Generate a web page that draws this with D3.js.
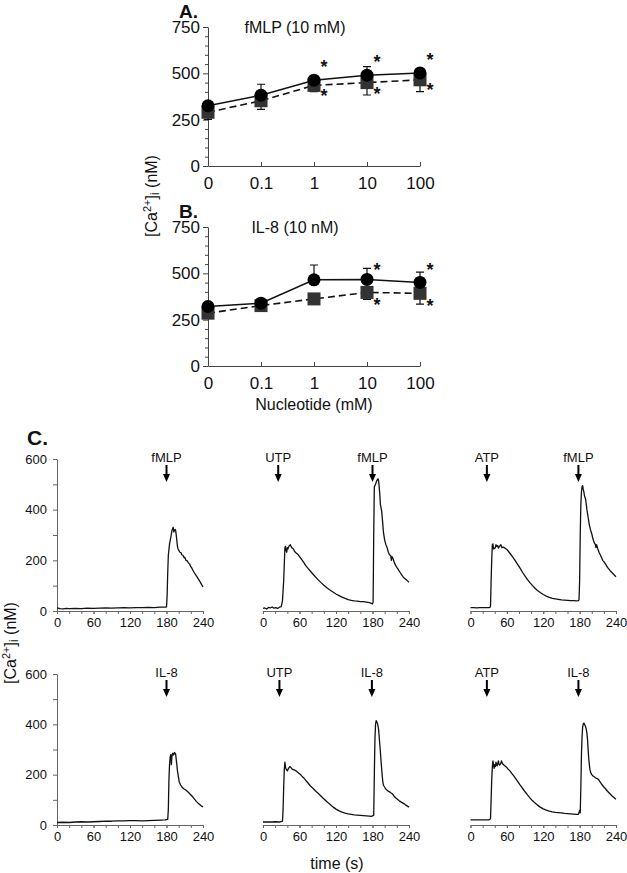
<!DOCTYPE html>
<html lang="en">
<head>
<meta charset="UTF-8">
<title>Nucleotide priming of Ca2+ responses</title>
<script src="https://d3js.org/d3.v7.min.js"></script>
<style>
    body { margin: 0; background: #fff; }
    text { font-family: "Liberation Sans", Arial, sans-serif; fill: #111; }
    .axis path, .axis line { stroke: #444; }
    .axis text { font-family: "Liberation Sans", Arial, sans-serif; fill: #111; }
    .axisC path, .axisC line { stroke: #666; }
</style>
</head>
<body>
<svg width="627" height="873"></svg>
<script>
    // ---- panel A / B data (nucleotide dose, [Ca2+]i nM) ----
    const doseCats = ["0", "0.1", "1", "10", "100"];

    const fmlpCircle    = [325, 382, 463, 490, 502];
    const fmlpCircleErr = [15, 59, 15, 46, 20];
    const fmlpSquare    = [290, 352, 435, 450, 465];
    const fmlpSquareErr = [38, 46, 34, 67, 64];
    const fmlpStars     = [["1", 554], ["1", 401], ["10", 584], ["10", 410], ["100", 595], ["100", 433]];

    const il8Circle    = [321, 339, 465, 467, 451];
    const il8CircleErr = [10, 12, 80, 60, 55];
    const il8Square    = [285, 326, 362, 397, 392];
    const il8SquareErr = [27, 30, 10, 37, 58];
    const il8Stars     = [["10", 541], ["10", 352], ["100", 541], ["100", 347]];

    // ---- panel C traces [time s, [Ca2+]i nM] ----
    const traceFmlp = [[0,12],[5,9],[10,8],[15,10],[20,9],[30,10],[40,9],[50,11],[60,10],[70,11],[80,12],[90,11],[100,12],[110,13],[120,12],[130,13],[140,13],[150,14],[160,13],[170,15],[178,15],[180,16],[181,60],[182,150],[183,220],[185,265],[187,290],[189,318],[190,325],[191,330],[192,312],[193,318],[194,322],[195,318],[196,300],[197,278],[198,255],[199,245],[200,240],[202,232],[204,230],[205,222],[207,220],[209,210],[210,212],[212,200],[214,198],[216,190],[218,185],[220,175],[222,168],[224,158],[226,150],[228,143],[230,136],[232,128],[234,120],[236,112],[238,103],[240,95]];

    const traceUtpFmlp = [[0,10],[3,12],[6,8],[9,14],[12,12],[15,16],[18,11],[21,13],[24,10],[27,15],[30,17],[32,40],[34,120],[36,250],[37,255],[38,238],[39,232],[40,250],[41,245],[43,258],[45,262],[46,255],[48,248],[50,245],[52,235],[55,228],[58,222],[61,212],[64,202],[67,192],[70,180],[74,168],[78,157],[82,146],[86,135],[90,125],[95,113],[100,102],[105,92],[110,83],[115,75],[120,67],[125,61],[130,55],[135,50],[140,45],[145,42],[150,40],[155,39],[160,37],[165,37],[170,35],[175,33],[178,30],[180,28],[181,35],[182,300],[183,490],[185,500],[187,515],[189,522],[190,515],[191,490],[192,460],[193,420],[195,395],[196,370],[197,340],[198,310],[200,280],[202,262],[204,250],[206,232],[208,222],[210,218],[211,200],[212,215],[214,205],[216,190],[218,180],[220,172],[222,165],[224,157],[226,150],[228,143],[230,136],[232,130],[234,126],[236,123],[238,118],[240,113]];

    const traceAtpFmlp = [[0,13],[5,13],[10,12],[15,13],[20,13],[25,13],[30,13],[32,14],[33,20],[34,120],[35,200],[36,262],[37,265],[38,245],[40,248],[41,250],[42,262],[43,255],[45,258],[46,248],[48,255],[50,262],[52,250],[54,252],[57,248],[60,243],[63,234],[66,225],[70,212],[74,198],[78,183],[82,168],[86,152],[90,138],[94,124],[98,112],[102,101],[106,91],[110,82],[115,73],[120,65],[125,59],[130,54],[135,50],[140,48],[145,46],[150,44],[155,43],[160,42],[165,41],[170,41],[175,40],[178,41],[179,45],[180,120],[181,300],[182,420],[183,470],[184,490],[185,495],[186,480],[187,470],[188,455],[190,440],[191,420],[192,400],[194,370],[196,340],[198,320],[200,305],[202,285],[204,270],[206,262],[207,250],[208,262],[210,245],[212,232],[214,222],[216,212],[218,200],[220,195],[222,188],[224,180],[226,172],[228,166],[230,160],[232,155],[234,150],[236,145],[238,140],[240,135]];

    const traceIl8 = [[0,10],[10,11],[20,10],[30,12],[40,13],[50,12],[60,13],[70,14],[80,15],[90,15],[100,16],[110,16],[120,17],[130,17],[140,16],[150,17],[160,18],[170,19],[178,20],[182,22],[183,60],[184,180],[185,240],[186,270],[187,280],[188,240],[189,275],[190,285],[191,278],[192,280],[193,288],[194,285],[195,282],[196,260],[197,240],[198,215],[199,200],[200,185],[201,170],[203,160],[205,152],[207,147],[209,143],[211,140],[213,136],[215,132],[217,127],[219,122],[221,117],[223,112],[225,106],[227,100],[229,94],[231,89],[233,84],[235,80],[237,76],[240,72]];

    const traceUtpIl8 = [[0,12],[5,12],[10,12],[15,12],[20,13],[25,12],[28,12],[30,13],[32,15],[33,60],[34,150],[35,220],[36,250],[37,230],[38,222],[40,215],[42,225],[44,232],[46,228],[48,222],[50,220],[52,218],[54,216],[56,212],[58,208],[61,202],[64,194],[67,187],[70,178],[74,167],[78,155],[82,146],[86,136],[90,127],[94,118],[98,108],[102,99],[106,90],[110,82],[115,72],[120,63],[125,56],[130,51],[135,47],[140,44],[145,42],[150,40],[155,39],[160,38],[165,37],[170,36],[175,35],[178,34],[180,36],[182,38],[183,200],[184,340],[185,400],[186,415],[187,410],[188,405],[189,395],[190,380],[191,350],[192,320],[193,290],[194,255],[195,225],[196,195],[197,170],[198,158],[200,150],[202,142],[204,138],[206,134],[208,132],[210,128],[212,125],[214,120],[216,113],[218,108],[220,104],[222,100],[224,96],[226,93],[228,90],[230,87],[232,84],[234,80],[236,77],[238,74],[240,71]];

    const traceAtpIl8 = [[0,20],[5,20],[10,20],[15,20],[20,20],[25,20],[30,20],[32,22],[33,25],[34,100],[35,180],[36,230],[37,255],[38,238],[39,225],[40,240],[41,232],[42,250],[43,240],[44,235],[45,245],[46,255],[47,242],[48,238],[50,245],[51,255],[52,248],[54,240],[56,236],[58,232],[60,228],[62,222],[65,215],[68,205],[71,196],[74,186],[78,172],[82,158],[86,145],[90,132],[94,120],[98,108],[102,97],[106,88],[110,80],[115,71],[120,64],[125,59],[130,55],[135,52],[140,50],[145,49],[150,48],[155,46],[160,45],[165,44],[170,43],[175,42],[178,42],[179,50],[180,58],[181,48],[182,150],[183,280],[184,350],[185,390],[186,402],[187,405],[188,400],[189,395],[190,390],[191,380],[192,365],[193,340],[194,300],[195,265],[196,240],[197,222],[198,210],[200,200],[202,195],[204,192],[206,188],[208,185],[210,183],[212,178],[214,170],[216,163],[218,157],[220,151],[222,146],[224,140],[226,134],[228,129],[230,124],[232,119],[234,114],[236,110],[238,106],[240,102]];

    const timeTicks = [0, 60, 120, 180, 240];
    const caTicksC = [0, 200, 400, 600];
    const caTicksAB = [0, 250, 500, 750];

    // additions (arrows) per trace
    const addsTop = [[[180, "fMLP"]], [[25, "UTP"], [180, "fMLP"]], [[27, "ATP"], [178, "fMLP"]]];
    const addsBottom = [[[180, "IL-8"]], [[27, "UTP"], [179, "IL-8"]], [[27, "ATP"], [178, "IL-8"]]];

    const svg = d3.select("svg");

    function caLabel(x, y) {
        const t = svg.append("text")
            .attr("transform", `translate(${x},${y}) rotate(-90)`)
            .attr("text-anchor", "middle")
            .attr("font-size", 16);
        t.append("tspan").text("[Ca");
        t.append("tspan").attr("font-size", 11).attr("dy", -6).text("2+");
        t.append("tspan").attr("dy", 6).text("]");
        t.append("tspan").attr("font-size", 12).attr("dy", 2).text("i");
        t.append("tspan").attr("dy", -2).text(" (nM)");
    }

    // ---------- dose-response panels ----------
    function dosePanel(top, bottom, letter, title, circ, circErr, sq, sqErr, stars) {
        const x = d3.scalePoint().domain(doseCats).range([208, 420]);
        const y = d3.scaleLinear().domain([0, 750]).range([bottom, top]);
        const g = svg.append("g");

        g.append("g").attr("class", "axis")
            .attr("transform", `translate(208,0)`)
            .call(d3.axisLeft(y).tickValues(d3.range(0, 751, 50).filter(v => v % 250))
                .tickSize(3).tickSizeOuter(0).tickFormat(""))
            .call(a => a.select(".domain").remove());
        g.append("g").attr("class", "axis")
            .attr("transform", `translate(208,0)`)
            .call(d3.axisLeft(y).tickValues(caTicksAB).tickSize(5).tickPadding(3).tickSizeOuter(0))
            .call(a => a.selectAll("text").attr("font-size", 17));
        g.append("g").attr("class", "axis")
            .attr("transform", `translate(0,${bottom})`)
            .call(d3.axisBottom(x).tickSize(-4).tickPadding(11).tickSizeOuter(0))
            .call(a => a.selectAll("text").attr("font-size", 17));

        g.append("text").attr("x", 179).attr("y", top - 9.5)
            .attr("font-size", 19).attr("font-weight", "bold").text(letter);
        g.append("text").attr("x", 295).attr("y", top + 6)
            .attr("text-anchor", "middle").attr("font-size", 16).text(title);

        const pts = doseCats.map((c, i) => ({c, ci: circ[i], ce: circErr[i], s: sq[i], se: sqErr[i]}));

        // error bars
        const bar = () => g.append("path")
            .attr("fill", "none").attr("stroke", "#111").attr("stroke-width", 1.2);
        pts.forEach(p => {
            const cx = x(p.c);
            bar().attr("d", `M${cx},${y(p.ci)}V${y(p.ci + p.ce)}M${cx - 4},${y(p.ci + p.ce)}H${cx + 4}`);
            bar().attr("d", `M${cx},${y(p.s)}V${y(p.s - p.se)}M${cx - 4},${y(p.s - p.se)}H${cx + 4}`);
        });

        g.append("path").datum(pts)
            .attr("fill", "none").attr("stroke", "#111").attr("stroke-width", 1.6)
            .attr("stroke-dasharray", "7,4")
            .attr("d", d3.line().x(d => x(d.c)).y(d => y(d.s)));
        g.append("path").datum(pts)
            .attr("fill", "none").attr("stroke", "#111").attr("stroke-width", 1.5)
            .attr("d", d3.line().x(d => x(d.c)).y(d => y(d.ci)));

        g.selectAll(".sq").data(pts).enter().append("rect")
            .attr("x", d => x(d.c) - 6.5).attr("y", d => y(d.s) - 6.5)
            .attr("width", 13).attr("height", 13).attr("fill", "#333");
        g.selectAll(".ci").data(pts).enter().append("circle")
            .attr("cx", d => x(d.c)).attr("cy", d => y(d.ci)).attr("r", 6.5).attr("fill", "#000");

        g.selectAll(".star").data(stars).enter().append("text")
            .attr("x", d => x(d[0]) + 10).attr("y", d => y(d[1]) + 10)
            .attr("text-anchor", "middle").attr("font-size", 18).attr("font-weight", "bold")
            .text("*");
    }

    dosePanel(27, 166, "A.", "fMLP (10 mM)", fmlpCircle, fmlpCircleErr, fmlpSquare, fmlpSquareErr, fmlpStars);
    dosePanel(227, 366, "B.", "IL-8 (10 nM)", il8Circle, il8CircleErr, il8Square, il8SquareErr, il8Stars);
    caLabel(157, 196);
    svg.append("text").attr("x", 314).attr("y", 410).attr("text-anchor", "middle")
        .attr("font-size", 16).text("Nucleotide (mM)");

    // ---------- time-course panels ----------
    const colX = [[57, 203], [263, 409], [470.5, 616]];

    function tracePanel(col, top, bottom, data, adds) {
        const x = d3.scaleLinear().domain([0, 240]).range(colX[col]);
        const y = d3.scaleLinear().domain([0, 600]).range([bottom, top]);
        const g = svg.append("g");

        g.append("g").attr("class", "axis axisC")
            .attr("transform", `translate(0,${bottom})`)
            .call(d3.axisBottom(x).tickValues(d3.range(0, 241, 20)).tickSize(3).tickSizeOuter(0).tickFormat(""));
        g.append("g").attr("class", "axis axisC")
            .attr("transform", `translate(0,${bottom})`)
            .call(d3.axisBottom(x).tickValues(timeTicks).tickSize(3).tickPadding(4).tickSizeOuter(0))
            .call(a => a.select(".domain").remove())
            .call(a => a.selectAll("text").attr("font-size", 13));

        if (col === 0) {
            g.append("g").attr("class", "axis axisC")
                .attr("transform", `translate(${colX[0][0]},0)`)
                .call(d3.axisLeft(y).tickValues([100, 300, 500]).tickSize(4).tickFormat(""))
                .call(a => a.select(".domain").remove());
            g.append("g").attr("class", "axis axisC")
                .attr("transform", `translate(${colX[0][0]},0)`)
                .call(d3.axisLeft(y).tickValues(caTicksC).tickSize(4).tickPadding(6).tickSizeOuter(0))
                .call(a => a.selectAll("text").attr("font-size", 13));
        }

        g.append("path").datum(data)
            .attr("fill", "none").attr("stroke", "#111").attr("stroke-width", 1.3)
            .attr("stroke-linejoin", "round")
            .attr("d", d3.line().x(d => x(d[0])).y(d => y(d[1])));

        adds.forEach(([t, label]) => {
            const ax = x(t);
            g.append("text").attr("x", ax).attr("y", top + 3)
                .attr("text-anchor", "middle").attr("font-size", 13).text(label);
            g.append("line").attr("x1", ax).attr("x2", ax)
                .attr("y1", top + 6).attr("y2", top + 17)
                .attr("stroke", "#000").attr("stroke-width", 2);
            g.append("path")
                .attr("d", `M${ax - 3.5},${top + 15}L${ax + 3.5},${top + 15}L${ax},${top + 23}Z`)
                .attr("fill", "#000");
        });
    }

    const topTraces = [traceFmlp, traceUtpFmlp, traceAtpFmlp];
    const bottomTraces = [traceIl8, traceUtpIl8, traceAtpIl8];
    topTraces.forEach((d, i) => tracePanel(i, 459, 611, d, addsTop[i]));
    bottomTraces.forEach((d, i) => tracePanel(i, 674, 825, d, addsBottom[i]));

    svg.append("text").attr("x", 27).attr("y", 445)
        .attr("font-size", 21).attr("font-weight", "bold").text("C.");
    caLabel(16, 643);
    svg.append("text").attr("x", 337).attr("y", 869).attr("text-anchor", "middle")
        .attr("font-size", 16).text("time (s)");
</script>
</body>
</html>
